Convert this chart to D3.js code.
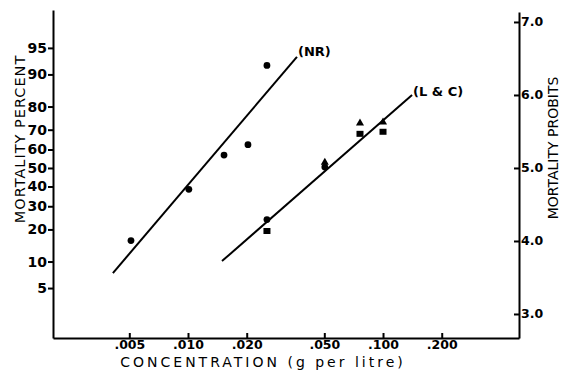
<!DOCTYPE html>
<html>
<head>
<meta charset="utf-8">
<script src="https://cdn.jsdelivr.net/npm/d3@7"></script>
<style>
  body { margin: 0; background: #fff; }
  svg { display: block; }
  text { font-family: "DejaVu Sans", sans-serif; fill: #000; }
  .tick text { font-weight: bold; }
</style>
</head>
<body>
<script>
const W = 566;
const H = 370;

// x ticks (g per litre) and their labels
const xTicks = [0.005, 0.01, 0.02, 0.05, 0.1, 0.2];
const xLabels = [".005", ".010", ".020", ".050", ".100", ".200"];

// left ticks: mortality percent
const pctTicks = [5, 10, 20, 30, 40, 50, 60, 70, 80, 90, 95];

// right ticks: probits
const probitTicks = [3, 4, 5, 6, 7];

// NR series (circles): [conc, percent]
const nrPoints = [[0.0051, 16], [0.0101, 38.5], [0.0153, 57], [0.0203, 62.5], [0.0254, 92]];
// NR fitted line ends
const nrLine = [[0.00412, 7.5], [0.0362, 93.6]];

// L & C series
const lcCircles = [[0.0254, 24], [0.0503, 50.5]];
const lcTriangles = [[0.0503, 53], [0.0762, 73], [0.1, 73.5]];
const lcSquares = [[0.0254, 19.4], [0.0762, 68], [0.1, 69]];
const lcLine = [[0.01494, 10.1], [0.1409, 84.1]];

// inverse normal cdf (Acklam) -> probit
function probit (pct) {
  const p = pct / 100;
  const a = [-3.969683028665376e+01, 2.209460984245205e+02, -2.759285104469687e+02, 1.383577518672690e+02, -3.066479806614716e+01, 2.506628277459239e+00];
  const b = [-5.447609879822406e+01, 1.615858368580409e+02, -1.556989798598866e+02, 6.680131188771972e+01, -1.328068155288572e+01];
  const c = [-7.784894002430293e-03, -3.223964580411365e-01, -2.400758277161838e+00, -2.549732539343734e+00, 4.374664141464968e+00, 2.938163982698783e+00];
  const d = [7.784695709041462e-03, 3.224671290700398e-01, 2.445134137142996e+00, 3.754408661907416e+00];
  const pl = 0.02425;
  let q, r, z;
  if (p < pl) {
    q = Math.sqrt(-2 * Math.log(p));
    z = (((((c[0]*q+c[1])*q+c[2])*q+c[3])*q+c[4])*q+c[5]) / ((((d[0]*q+d[1])*q+d[2])*q+d[3])*q+1);
  } else if (p <= 1 - pl) {
    q = p - 0.5; r = q * q;
    z = (((((a[0]*r+a[1])*r+a[2])*r+a[3])*r+a[4])*r+a[5])*q / (((((b[0]*r+b[1])*r+b[2])*r+b[3])*r+b[4])*r+1);
  } else {
    q = Math.sqrt(-2 * Math.log(1 - p));
    z = -(((((c[0]*q+c[1])*q+c[2])*q+c[3])*q+c[4])*q+c[5]) / ((((d[0]*q+d[1])*q+d[2])*q+d[3])*q+1);
  }
  return 5 + z;
}

const svg = d3.select("body").append("svg")
    .attr("width", W)
    .attr("height", H);

const x = d3.scaleLog()
    .domain([0.002031, 0.4981])
    .range([53, 519]);

const y = d3.scaleLinear()
    .domain([2.671, 7.164])
    .range([338, 10]);

const px = d => x(d[0]);
const py = d => y(probit(d[1]));

// axes
const left = svg.append("g")
    .attr("transform", "translate(53,0)")
    .call(d3.axisLeft(y)
      .tickValues(pctTicks.map(probit))
      .tickFormat((d, i) => pctTicks[i])
      .tickSizeInner(5).tickSizeOuter(0).tickPadding(1));
left.selectAll(".tick text").style("font-size", "14px");

const right = svg.append("g")
    .attr("transform", "translate(519,0)")
    .call(d3.axisRight(y.copy().range([338, 12]).domain([2.671, 7.164 - 2 / 73]))
      .tickValues(probitTicks)
      .tickFormat(d3.format(".1f"))
      .tickSizeInner(-5).tickSizeOuter(0).tickPadding(2));
right.selectAll(".tick text").style("font-size", "12.5px");

const bottom = svg.append("g")
    .attr("transform", "translate(0,338)")
    .call(d3.axisBottom(x)
      .tickValues(xTicks)
      .tickFormat((d, i) => xLabels[i])
      .tickSizeInner(-5).tickSizeOuter(0).tickPadding(2));
bottom.selectAll(".tick text").style("font-size", "12.5px");

svg.selectAll(".domain, .tick line")
    .attr("stroke", "#000")
    .attr("stroke-width", 2);

// axis titles
svg.append("text")
    .attr("transform", "translate(25,139) rotate(-90)")
    .attr("text-anchor", "middle")
    .style("font-size", "14.5px")
    .style("letter-spacing", "1px")
    .text("MORTALITY PERCENT");

svg.append("text")
    .attr("transform", "translate(558,148) rotate(-90)")
    .attr("text-anchor", "middle")
    .style("font-size", "14px")
    .text("MORTALITY PROBITS");

svg.append("text")
    .attr("x", 263)
    .attr("y", 366.5)
    .attr("text-anchor", "middle")
    .style("font-size", "14px")
    .style("letter-spacing", "3px")
    .text("CONCENTRATION (g per litre)");

// fitted lines
const line = d3.line().x(px).y(py);
[nrLine, lcLine].forEach(l => {
  svg.append("path")
      .attr("d", line(l))
      .attr("fill", "none")
      .attr("stroke", "#000")
      .attr("stroke-width", 2);
});

svg.append("text")
    .attr("x", x(nrLine[1][0]) + 1)
    .attr("y", py(nrLine[1]) - 1)
    .style("font-size", "13px")
    .style("font-weight", "bold")
    .text("(NR)");

svg.append("text")
    .attr("x", x(lcLine[1][0]) + 1)
    .attr("y", py(lcLine[1]) + 1)
    .style("font-size", "13px")
    .style("font-weight", "bold")
    .text("(L & C)");

// points
svg.selectAll(".nr")
    .data(nrPoints).enter()
  .append("circle")
    .attr("class", "nr")
    .attr("cx", px)
    .attr("cy", py)
    .attr("r", 3.4);

svg.selectAll(".lc-c")
    .data(lcCircles).enter()
  .append("circle")
    .attr("class", "lc-c")
    .attr("cx", px)
    .attr("cy", py)
    .attr("r", 3.4);

svg.selectAll(".lc-s")
    .data(lcSquares).enter()
  .append("rect")
    .attr("class", "lc-s")
    .attr("x", d => px(d) - 3.5)
    .attr("y", d => py(d) - 3)
    .attr("width", 7)
    .attr("height", 6);

svg.selectAll(".lc-t")
    .data(lcTriangles).enter()
  .append("path")
    .attr("class", "lc-t")
    .attr("transform", d => `translate(${px(d)},${py(d)})`)
    .attr("d", d3.symbol(d3.symbolTriangle, 28));
</script>
</body>
</html>
